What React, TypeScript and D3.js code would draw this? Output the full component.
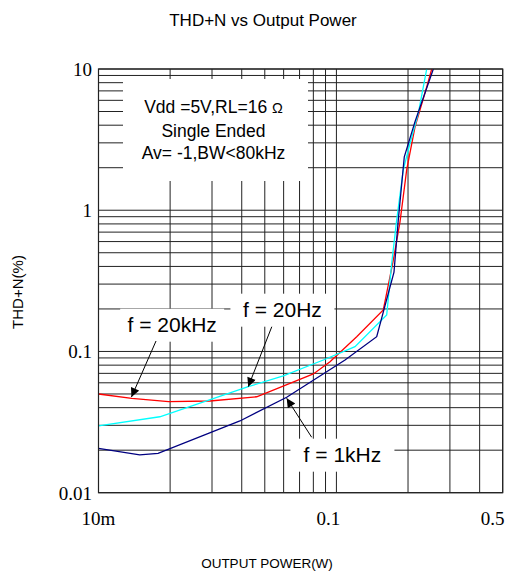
import React from "react";
import * as d3 from "d3";

// ---- data ----
const xGridValues = [0.01, 0.02, 0.03, 0.04, 0.05, 0.06, 0.07, 0.08, 0.09, 0.1, 0.2, 0.3, 0.4, 0.5];
const yGridValues = [
  0.01, 0.02, 0.03, 0.04, 0.05, 0.06, 0.07, 0.08, 0.09,
  0.1, 0.2, 0.3, 0.4, 0.5, 0.6, 0.7, 0.8, 0.9,
  1, 2, 3, 4, 5, 6, 7, 8, 9, 10,
];
const xTickValues = [0.01, 0.1, 0.5];
const xTickLabels = ["10m", "0.1", "0.5"];
const yTickValues = [10, 1, 0.1, 0.01];
const yTickLabels = ["10", "1", "0.1", "0.01"];

// f = 20kHz (red)
const power20k = [0.01, 0.0138, 0.0197, 0.0294, 0.0462, 0.08, 0.094, 0.1217, 0.1574, 0.1729, 0.185, 0.1974, 0.214, 0.2397, 0.2515];
const thd20k = [0.05, 0.0466, 0.0441, 0.0446, 0.0478, 0.0693, 0.0847, 0.1272, 0.1966, 0.43, 0.825, 1.93, 3.89, 7.46, 10];
// f = 20Hz (cyan)
const power20 = [0.01, 0.0181, 0.0426, 0.0598, 0.0881, 0.1197, 0.1627, 0.1708, 0.1792, 0.191, 0.2039, 0.2209, 0.2397];
const thd20 = [0.0297, 0.0345, 0.0563, 0.0671, 0.087, 0.1081, 0.1813, 0.421, 0.853, 1.93, 2.98, 4.86, 10];
// f = 1kHz (navy)
const power1k = [0.01, 0.0149, 0.0178, 0.0393, 0.0618, 0.1087, 0.1477, 0.1746, 0.182, 0.1929, 0.214, 0.2555];
const thd1k = [0.0206, 0.0185, 0.019, 0.0322, 0.0474, 0.087, 0.1272, 0.365, 0.853, 2.39, 4.24, 10];

const seriesNames = ["f = 20kHz", "f = 20Hz", "f = 1kHz"];
const seriesColors = ["#ff0000", "#00ffff", "#000080"];
// annotation: label anchor (x, y) and arrow tail/tip in data units
const labelAnchorX = [0.0204, 0.0593, 0.106];
const labelAnchorY = [0.138, 0.1763, 0.01658];
const arrowTailX = [0.01745, 0.0535, 0.0787];
const arrowTailY = [0.1186, 0.1497, 0.0247];
const arrowTipX = [0.01376, 0.0426, 0.0618];
const arrowTipY = [0.0476, 0.0563, 0.0466];

const conditionLines = ["Vdd =5V,RL=16 ", "Single Ended", "Av= -1,BW<80kHz"];

export default function App() {
  const W = 519, H = 577;
  const left = 98.5, right = 502.7, top = 69, bottom = 492.7;
  const x = d3.scaleLog().domain([0.01, 0.5]).range([left, right]);
  const y = d3.scaleLog().domain([0.01, 10]).range([bottom, top]);
  const line = d3.line<[number, number]>().x((d) => x(d[0])).y((d) => y(d[1]));
  const series = [
    power20k.map((p, i) => [p, thd20k[i]] as [number, number]),
    power20.map((p, i) => [p, thd20[i]] as [number, number]),
    power1k.map((p, i) => [p, thd1k[i]] as [number, number]),
  ];
  const sans = "'Liberation Sans', Arial, sans-serif";
  const serif = "'Liberation Serif', 'Times New Roman', serif";
  const gridColor = "#222";

  return (
    <svg width={W} height={H} style={{ position: "absolute", left: 0, top: 0, background: "#fff" }}>
      <defs>
        <clipPath id="plotClip">
          <rect x={left} y={top} width={right - left} height={bottom - top} />
        </clipPath>
        <marker id="arrowHead" viewBox="0 0 10 10" refX="10" refY="5" markerWidth="11" markerHeight="9" markerUnits="userSpaceOnUse" orient="auto">
          <path d="M0,0 L10,5 L0,10 z" fill="#000" />
        </marker>
      </defs>
      <rect x={0} y={0} width={W} height={H} fill="#fff" />

      {/* title */}
      <text x={263} y={26} textAnchor="middle" fontFamily={sans} fontSize={17} fill="#000">THD+N vs Output Power</text>

      {/* grid */}
      <g stroke={gridColor} strokeWidth={1}>
        {xGridValues.map((v) => (
          <line key={"vx" + v} x1={x(v)} x2={x(v)} y1={top} y2={bottom} />
        ))}
        {yGridValues.map((v) => (
          <line key={"hy" + v} x1={left} x2={right} y1={y(v)} y2={y(v)} />
        ))}
      </g>

      {/* condition box */}
      <rect x={123} y={79} width={185} height={102} fill="#fff" />
      <text textAnchor="middle" fontFamily={sans} fontSize={17.5} fill="#000">
        <tspan x={213.5} y={113}>{conditionLines[0]}<tspan fontSize={14.5}>Ω</tspan></tspan>
        <tspan x={213.5} y={137}>{conditionLines[1]}</tspan>
        <tspan x={213.5} y={159}>{conditionLines[2]}</tspan>
      </text>

      {/* label boxes */}
      {seriesNames.map((n, i) => (
        <rect key={"lb" + i} x={x(labelAnchorX[i]) - 52} y={y(labelAnchorY[i]) - 23} width={104} height={33} fill="#fff" />
      ))}

      {/* curves */}
      <g clipPath="url(#plotClip)" fill="none" strokeWidth={1.3}>
        {series.map((s, i) => (
          <path key={"s" + i} d={line(s) || ""} stroke={seriesColors[i]} />
        ))}
      </g>

      {/* frame */}
      <rect x={left} y={top} width={right - left} height={bottom - top} fill="none" stroke={gridColor} strokeWidth={1.2} />

      {/* annotations */}
      {seriesNames.map((n, i) => (
        <g key={"an" + i}>
          <line x1={x(arrowTailX[i])} y1={y(arrowTailY[i])} x2={x(arrowTipX[i])} y2={y(arrowTipY[i])} stroke="#000" strokeWidth={1} markerEnd="url(#arrowHead)" />
          <text x={x(labelAnchorX[i])} y={y(labelAnchorY[i])} textAnchor="middle" fontFamily={sans} fontSize={21} fill="#000">{n}</text>
        </g>
      ))}

      {/* ticks */}
      {xTickValues.map((v, i) => (
        <text key={"xt" + v} x={x(v) + (i === 1 ? -8 : i === 2 ? -10 : 0)} y={525} textAnchor="middle" fontFamily={serif} fontSize={19} fill="#000">{xTickLabels[i]}</text>
      ))}
      {yTickValues.map((v, i) => (
        <text key={"yt" + v} x={92} y={y(v) + 7} textAnchor="end" fontFamily={serif} fontSize={19} fill="#000">{yTickLabels[i]}</text>
      ))}

      {/* axis titles */}
      <text x={267} y={568} textAnchor="middle" fontFamily={sans} fontSize={13.5} fill="#000">OUTPUT POWER(W)</text>
      <text transform="translate(23,292) rotate(-90)" textAnchor="middle" fontFamily={sans} fontSize={15} fill="#000">THD+N(%)</text>
    </svg>
  );
}
